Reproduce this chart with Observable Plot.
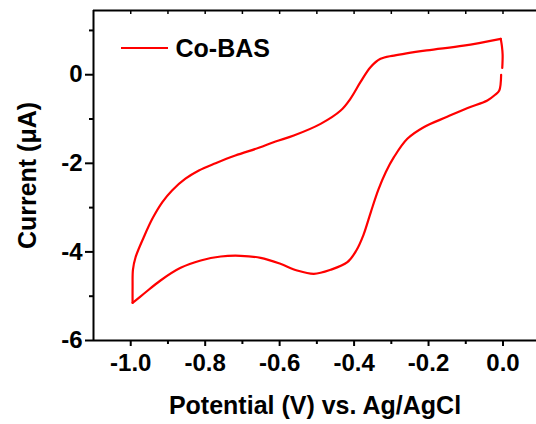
<!DOCTYPE html>
<html>
<head>
<meta charset="utf-8">
<script src="https://cdn.jsdelivr.net/npm/d3@7"></script>
<script src="https://cdn.jsdelivr.net/npm/@observablehq/plot@0.6"></script>
<style>
  html, body { margin: 0; padding: 0; background: #fff; }
</style>
</head>
<body>
<div id="chart"></div>
<script>
// ---- data ----
const seriesName = "Co-BAS";
const xTitle = "Potential (V) vs. Ag/AgCl";
const yTitle = "Current (\u03bcA)";

// segment 0: start of scan up to the anodic switching point
const startPotential = [-0.002, -0.001, -0.003, -0.006];
const startCurrent   = [0.152, 0.45, 0.65, 0.81];

// segment 1: upper branch, from 0.0 V down to -1.0 V
const upperPotential = [-0.006, -0.106, -0.205, -0.293, -0.329, -0.356, -0.383, -0.410, -0.436, -0.490, -0.562, -0.611, -0.656, -0.719, -0.772, -0.817, -0.853, -0.889, -0.915, -0.942, -0.965, -0.987, -0.994, -0.995, -0.995];
const upperCurrent   = [0.81, 0.656, 0.55, 0.433, 0.359, 0.169, -0.169, -0.544, -0.808, -1.109, -1.372, -1.508, -1.650, -1.824, -1.998, -2.162, -2.348, -2.612, -2.876, -3.253, -3.668, -4.12, -4.40, -4.8, -5.15];

// segment 2: lower branch, from -1.0 V back to 0.0 V
const lowerPotential = [-0.995, -0.964, -0.920, -0.866, -0.812, -0.758, -0.705, -0.651, -0.598, -0.553, -0.508, -0.463, -0.418, -0.394, -0.375, -0.355, -0.335, -0.315, -0.293, -0.257, -0.213, -0.150, -0.095, -0.042, -0.021, -0.010, -0.005];
const lowerCurrent   = [-5.15, -4.939, -4.645, -4.36, -4.194, -4.104, -4.088, -4.133, -4.269, -4.42, -4.495, -4.404, -4.233, -3.968, -3.62, -3.10, -2.60, -2.20, -1.862, -1.447, -1.185, -0.95, -0.75, -0.58, -0.452, -0.355, 0.0];

const xDomain = [-1.1, 0.09];
const yDomain = [-6, 1.45];
const xMajorTicks = [-1.0, -0.8, -0.6, -0.4, -0.2, 0.0];
const xMinorTicks = [-0.9, -0.7, -0.5, -0.3, -0.1];
const yMajorTicks = [-6, -4, -2, 0];
const yMinorTicks = [-5, -3, -1, 1];

// ---- build table ----
const data = [];
[[startPotential, startCurrent], [upperPotential, upperCurrent], [lowerPotential, lowerCurrent]]
  .forEach(([xs, ys], seg) => xs.forEach((x, i) => data.push({seg, potential: x, current: ys[i]})));

const font = "'Liberation Sans', Arial, sans-serif";
const red = "#ff0000";

const legendLine = (index, scales, values, dims) => {
  const g = d3.create("svg:g");
  g.append("line")
    .attr("x1", dims.marginLeft + 28).attr("x2", dims.marginLeft + 75)
    .attr("y1", dims.marginTop + 38).attr("y2", dims.marginTop + 38)
    .attr("stroke", red).attr("stroke-width", 2.2);
  return g.node();
};

const chart = Plot.plot({
  width: 536,
  height: 424,
  marginLeft: 93,
  marginRight: 0,
  marginTop: 10,
  marginBottom: 84,
  style: {fontFamily: font, fontWeight: "bold", fontSize: "24px", background: "#fff", color: "#000", overflow: "visible"},
  x: {domain: xDomain},
  y: {domain: yDomain},
  marks: [
    Plot.line(data, {x: "potential", y: "current", z: "seg", stroke: red, strokeWidth: 2.2, curve: "catmull-rom"}),
    // frame lines (left, bottom, top)
    Plot.ruleX([xDomain[0]], {stroke: "#000", strokeWidth: 2}),
    Plot.ruleY([yDomain[0]], {stroke: "#000", strokeWidth: 2}),
    Plot.ruleY([yDomain[1]], {stroke: "#000", strokeWidth: 2}),
    // x axis
    Plot.axisX({ticks: xMajorTicks, tickSize: 6, tickPadding: 7, tickFormat: d => d.toFixed(1), strokeWidth: 2, label: null, fontSize: 24}),
    Plot.axisX({ticks: xMinorTicks, tickSize: 4, tickFormat: () => "", strokeWidth: 2, label: null}),
    Plot.axisX({anchor: "top", ticks: xMajorTicks.concat(xMinorTicks), tickSize: -3, tickFormat: () => "", strokeWidth: 1.5, label: null}),
    // y axis
    Plot.axisY({ticks: yMajorTicks, tickSize: 8, tickPadding: 3, tickFormat: d => String(d), strokeWidth: 2, label: null, fontSize: 24}),
    Plot.axisY({ticks: yMinorTicks, tickSize: 4, tickFormat: () => "", strokeWidth: 2, label: null}),
    // titles
    Plot.text([xTitle], {text: d => d, frameAnchor: "bottom", dy: 73, lineAnchor: "bottom", fontSize: 25, fontWeight: "bold"}),
    Plot.text([yTitle], {text: d => d, frameAnchor: "left", rotate: -90, dx: -58, textAnchor: "middle", lineAnchor: "bottom", fontSize: 25, fontWeight: "bold"}),
    // legend
    legendLine,
    Plot.text([seriesName], {text: d => d, frameAnchor: "top-left", dx: 82, dy: 38, textAnchor: "start", lineAnchor: "middle", fontSize: 25, fontWeight: "bold"})
  ]
});
document.getElementById("chart").append(chart);
</script>
</body>
</html>
